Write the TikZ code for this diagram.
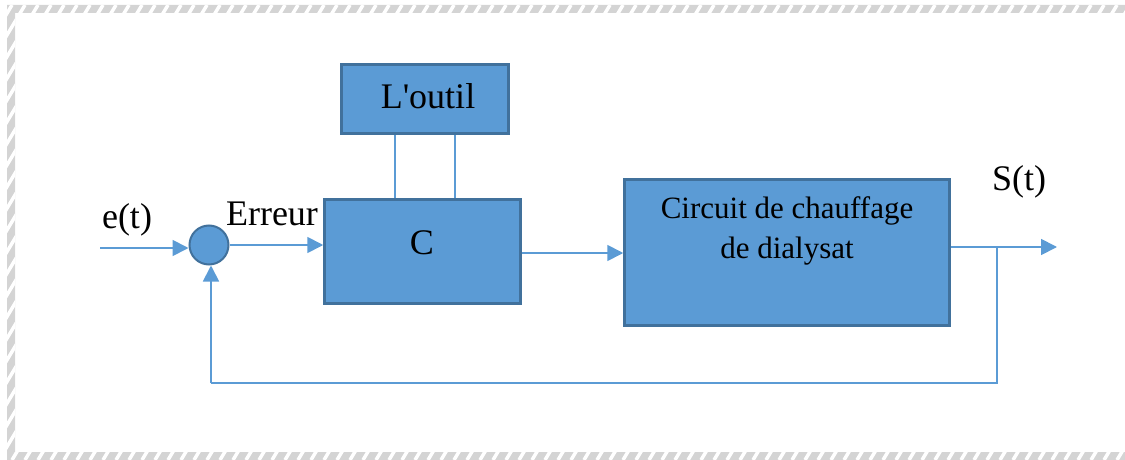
\documentclass[tikz,border=0pt]{standalone}
\usepackage{fontspec}
\setmainfont{Liberation Serif}[Ligatures=TeXOff]
\usetikzlibrary{arrows.meta,calc}
\definecolor{boxfill}{HTML}{5B9BD5}
\definecolor{boxline}{HTML}{41719C}
\definecolor{wire}{HTML}{5B9BD5}
\definecolor{hatch}{HTML}{D4D4D4}
\tikzset{
  blockbox/.style={draw=boxline, fill=boxfill, line width=2.5pt, inner sep=0pt},
  wireline/.style={draw=wire, line width=1.8pt},
  arrowline/.style={wireline, -{Triangle[length=16pt,width=16pt]}},
  bigtext/.style={font=\fontsize{36}{40}\selectfont, anchor=base, inner sep=0pt},
  smalltext/.style={font=\fontsize{31}{40}\selectfont, anchor=base, inner sep=0pt},
}
\begin{document}
\begin{tikzpicture}[x=1pt,y=-1pt]
\useasboundingbox (0,0) rectangle (1125,460);
% hatched frame
\begin{scope}
  \clip (7,5) rectangle (1125,13) (7,5) rectangle (15,460) (7,452) rectangle (1125,460);
  \fill[hatch] (0,0) rectangle (1125,460);
  \foreach \i in {-300,-287,...,1130} \draw[white, line width=3.5pt] (\i,460) -- ++(273,-455);
\end{scope}
% blocks
\node[blockbox, minimum width=167pt, minimum height=69pt] (outil) at (425,99) {};
\node[blockbox, minimum width=196pt, minimum height=104pt] (C) at (422.5,251.5) {};
\node[blockbox, minimum width=325pt, minimum height=146pt] (circ) at (787,252.5) {};
\node[circle, draw=boxline, fill=boxfill, line width=2pt, minimum size=39pt, inner sep=0pt] (sum) at (209,245) {};
% texts
\node[bigtext] (toutil) at (428,109) {L'outil};
\node[bigtext] (tC) at (422,254) {C};
\node[smalltext] (tcirc1) at (787,218) {Circuit de chauffage};
\node[smalltext] (tcirc2) at (787,258) {de dialysat};
\node[bigtext] (te) at (127,228) {e(t)};
\node[bigtext] (terr) at (272,225) {Erreur};
\node[bigtext] (ts) at (1019,190) {S(t)};
% coordinates
\coordinate (ein) at (100,248);
\coordinate (sout) at (1057,247);
\coordinate (branch) at (997,247);
\coordinate (fb) at (997,383);
% connectors
\draw[arrowline] (ein) -- (ein -| sum.west);
\draw[arrowline] (sum.east) -- (sum.east -| C.west);
\draw[arrowline] ([yshift=-1.5pt]C.east) -- ([yshift=-1.5pt]C.east -| circ.west);
\draw[arrowline] (sout -| circ.east) -- (sout);
\draw[wireline] (branch) -- (fb) -- ([xshift=2pt]fb -| sum.south);
\draw[arrowline] ([xshift=2pt]fb -| sum.south) -- ([xshift=2pt]sum.south);
\draw[wireline] ([xshift=55pt]outil.south west) -- ([xshift=55pt]outil.south west |- C.north);
\draw[wireline] ([xshift=115pt]outil.south west) -- ([xshift=115pt]outil.south west |- C.north);
\end{tikzpicture}
\end{document}
